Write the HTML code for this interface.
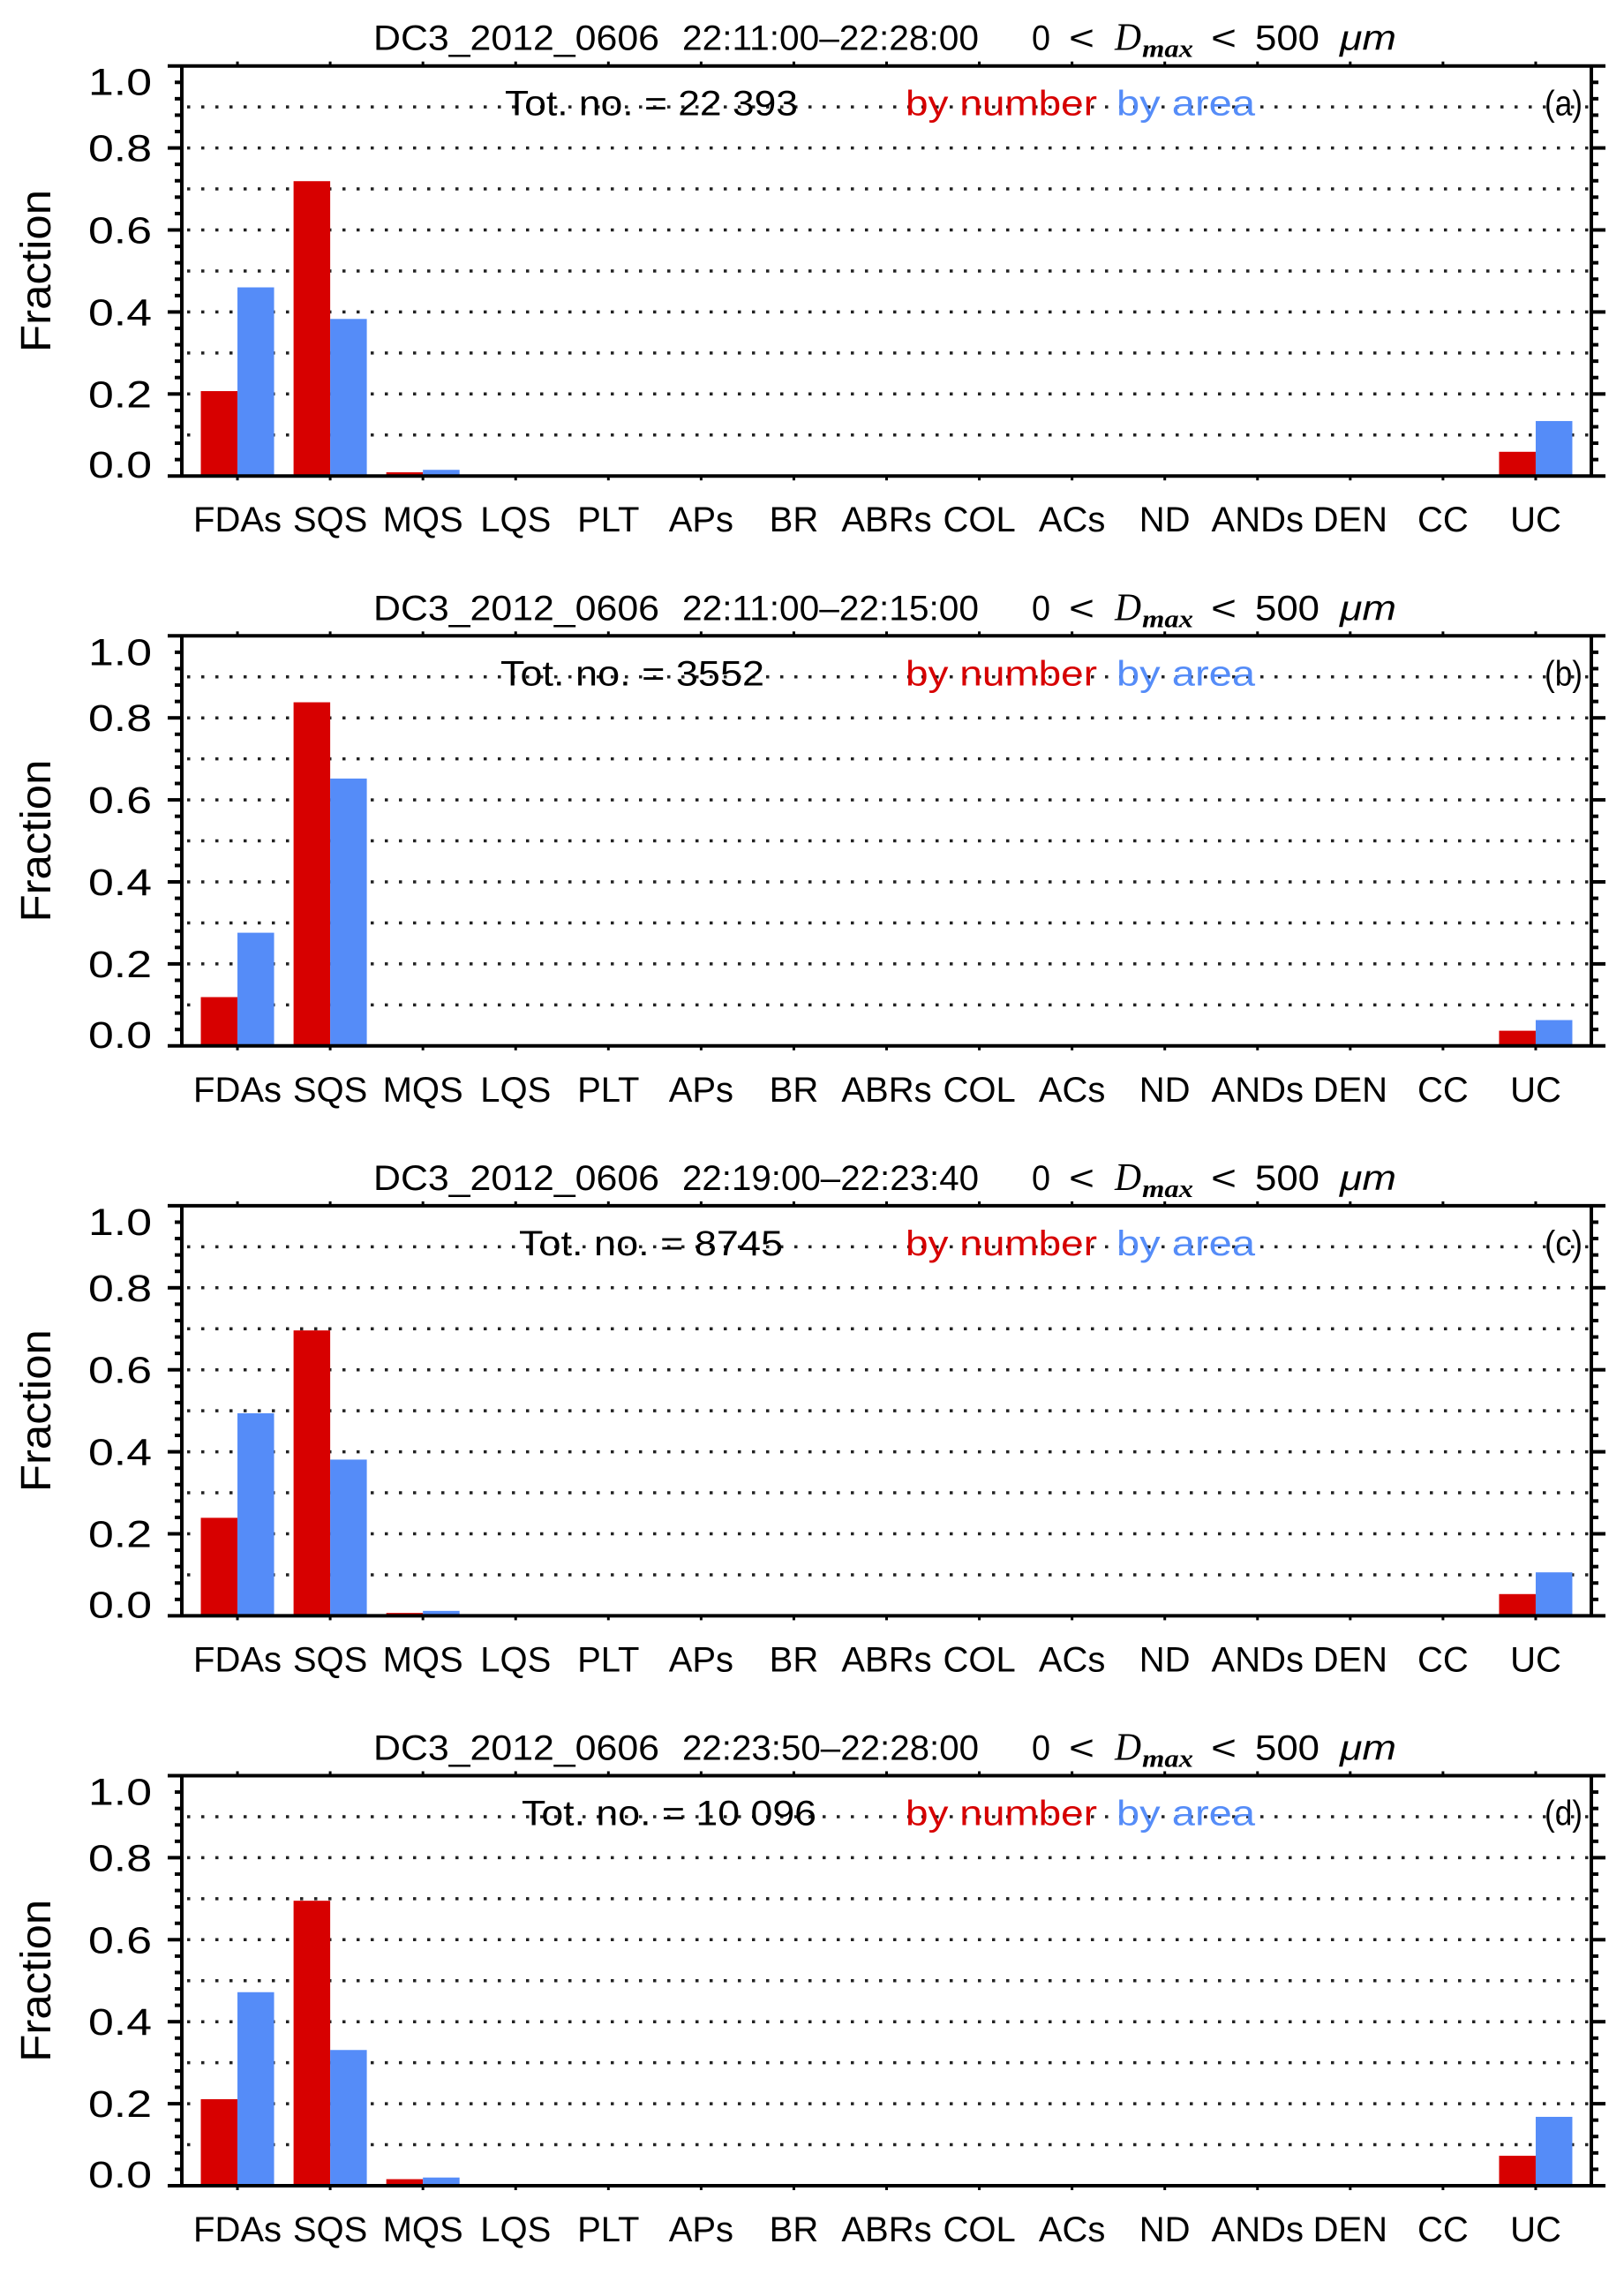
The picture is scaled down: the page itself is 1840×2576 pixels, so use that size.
<!DOCTYPE html>
<html><head><meta charset="utf-8">
<style>
html,body{margin:0;padding:0;background:#fff;}
svg{display:block;}
text{font-family:"Liberation Sans",sans-serif;}
</style></head>
<body>
<svg id="fig" width="1840" height="2576" viewBox="0 0 1840 2576" fill="#000" xmlns="http://www.w3.org/2000/svg"></svg>
<script>
const categories = ["FDAs","SQS","MQS","LQS","PLT","APs","BR","ABRs","COL","ACs","ND","ANDs","DEN","CC","UC"];
const panelLetters = ["(a)","(b)","(c)","(d)"];
const timeRanges = ["22:11:00\u201322:28:00","22:11:00\u201322:15:00","22:19:00\u201322:23:40","22:23:50\u201322:28:00"];
const totals = ["22 393","3552","8745","10 096"];
const byNumberA = [0.207,0.719,0.009,0,0,0,0,0,0,0,0,0,0,0,0.059];
const byAreaA   = [0.460,0.383,0.015,0,0,0,0,0,0,0,0,0,0,0,0.134];
const byNumberB = [0.119,0.838,0.002,0,0,0,0,0,0,0,0,0,0,0,0.037];
const byAreaB   = [0.276,0.652,0.002,0,0,0,0,0,0,0,0,0,0,0,0.063];
const byNumberC = [0.239,0.696,0.007,0,0,0,0,0,0,0,0,0,0,0,0.053];
const byAreaC   = [0.494,0.381,0.012,0,0,0,0,0,0,0,0,0,0,0,0.106];
const byNumberD = [0.211,0.695,0.016,0,0,0,0,0,0,0,0,0,0,0,0.073];
const byAreaD   = [0.472,0.331,0.020,0,0,0,0,0,0,0,0,0,0,0,0.168];
const yTickLabels = ["0.0","0.2","0.4","0.6","0.8","1.0"];
const yTickValues = [0,0.2,0.4,0.6,0.8,1.0];

const numberSeries = [byNumberA,byNumberB,byNumberC,byNumberD];
const areaSeries = [byAreaA,byAreaB,byAreaC,byAreaD];
const NS="http://www.w3.org/2000/svg";
const svg=document.getElementById('fig');
const RED="#d70000", BLUE="#558cf8";
const LEFT=206, RIGHT=1803, PH=464.5, TOP0=74.7, PSTEP=645.6;
const XMIN=-0.6, XMAX=14.6;
function mk(tag,attrs,parent){const e=document.createElementNS(NS,tag);for(const k in attrs)e.setAttribute(k,attrs[k]);(parent||svg).appendChild(e);return e;}
function xOf(i){return LEFT+(i-XMIN)/(XMAX-XMIN)*(RIGHT-LEFT);}

for(let p=0;p<4;p++){
  const top=TOP0+p*PSTEP, bot=top+PH;
  const yOf=v=>bot-v*PH;
  const g=mk('g',{});
  
  
  for(let k=1;k<=9;k++){
    const gl=mk('line',{x1:LEFT+6,x2:RIGHT-2,y1:yOf(k/10),y2:yOf(k/10),stroke:'#222','stroke-width':3.5,'stroke-dasharray':'3.5 12.5'},g);
    
    
  }
  const nums=numberSeries[p], areas=areaSeries[p];
  for(let i=0;i<categories.length;i++){
    const cx=xOf(i);
    if(nums[i]>0){
      const r=mk('rect',{x:cx-41.5,y:yOf(nums[i]),width:41.5,height:nums[i]*PH,fill:RED},g);
      
      
    }
    if(areas[i]>0){
      const b=mk('rect',{x:cx,y:yOf(areas[i]),width:41.5,height:areas[i]*PH,fill:BLUE},g);
      
      
    }
  }
  const ax=mk('g',{stroke:'#000','stroke-width':4},g);
  
  
  mk('line',{x1:190,x2:1819,y1:top,y2:top},ax);
  mk('line',{x1:190,x2:1819,y1:bot,y2:bot},ax);
  mk('line',{x1:LEFT,x2:LEFT,y1:top,y2:bot},ax);
  mk('line',{x1:RIGHT,x2:RIGHT,y1:top,y2:bot},ax);
  for(let k=1;k<25;k++){
    const y=yOf(k*0.04); const major=(k%5===0);
    const L=major?16:8;
    mk('line',{x1:LEFT-L,x2:LEFT,y1:y,y2:y},ax);
    mk('line',{x1:RIGHT,x2:RIGHT+L,y1:y,y2:y},ax);
  }
  for(let i=0;i<categories.length;i++){
    const cx=xOf(i);
    mk('line',{x1:cx,x2:cx,y1:top,y2:top-5,'stroke-width':3},ax);
    mk('line',{x1:cx,x2:cx,y1:bot,y2:bot+5,'stroke-width':3},ax);
    const t=mk('text',{x:cx,y:bot+63,'font-size':40,'text-anchor':'middle'},g);
    t.textContent=categories[i];
    
    
  }
  for(let k=0;k<yTickValues.length;k++){
    let y=yOf(yTickValues[k])+15;
    if(k===0) y=bot+2;
    if(k===yTickValues.length-1) y=top+33;
    const t=mk('text',{x:100,y:y,'font-size':43,textLength:72,lengthAdjust:'spacingAndGlyphs'},g);
    t.textContent=yTickLabels[k];
    
    
  }
  const yl=mk('text',{x:0,y:0,'font-size':48,'text-anchor':'middle',textLength:184,lengthAdjust:'spacingAndGlyphs',transform:`translate(57,${(top+bot)/2}) rotate(-90)`},g);
  yl.textContent='Fraction';
  
  
  const ty=top-18;
  const tt=mk('text',{x:423,y:ty,'font-size':40},g);
  
  
  const parts=[
    ['DC3_2012_0606',423,324,{}],
    [timeRanges[p],773,336,{}],
    ['0',1169,21,{}],
    ['<',1211,29,{}],
    ['D',1263,30,{'font-style':'italic','font-family':'Liberation Serif, serif','font-size':44}],
    ['<',1372,29,{}],
    ['500',1422,73,{}],
    ['\u03bcm',1518,64,{'font-style':'italic'}]
  ];
  for(const [s,x,w,extra] of parts){
    const ts=mk('tspan',Object.assign({x:x,y:ty,textLength:w,lengthAdjust:'spacingAndGlyphs'},extra),tt);
    ts.textContent=s;
  }
  const sub=mk('tspan',{x:1294,y:ty+8,'font-size':28,'font-style':'italic','font-weight':'bold','font-family':'Liberation Serif, serif',textLength:58,lengthAdjust:'spacingAndGlyphs'},tt);
  sub.textContent='max';
  const totW=[332,299,299,334][p];
  const totX=[572,567,588,591][p];
  const tot=mk('text',{x:totX,y:top+56,'font-size':40,textLength:totW,lengthAdjust:'spacingAndGlyphs'},g);
  tot.textContent='Tot. no. = '+totals[p];
  
  
  const l1=mk('text',{x:1026,y:top+56,'font-size':40,fill:RED,style:'fill:'+RED,textLength:217,lengthAdjust:'spacingAndGlyphs'},g);
  l1.textContent='by number';
  
  
  const l2=mk('text',{x:1265,y:top+56,'font-size':40,fill:BLUE,style:'fill:'+BLUE,textLength:157,lengthAdjust:'spacingAndGlyphs'},g);
  l2.textContent='by area';
  
  
  const pl=mk('text',{x:1750,y:top+56,'font-size':40,textLength:43,lengthAdjust:'spacingAndGlyphs'},g);
  pl.textContent=panelLetters[p];
  
  
}
</script>
</body></html>
